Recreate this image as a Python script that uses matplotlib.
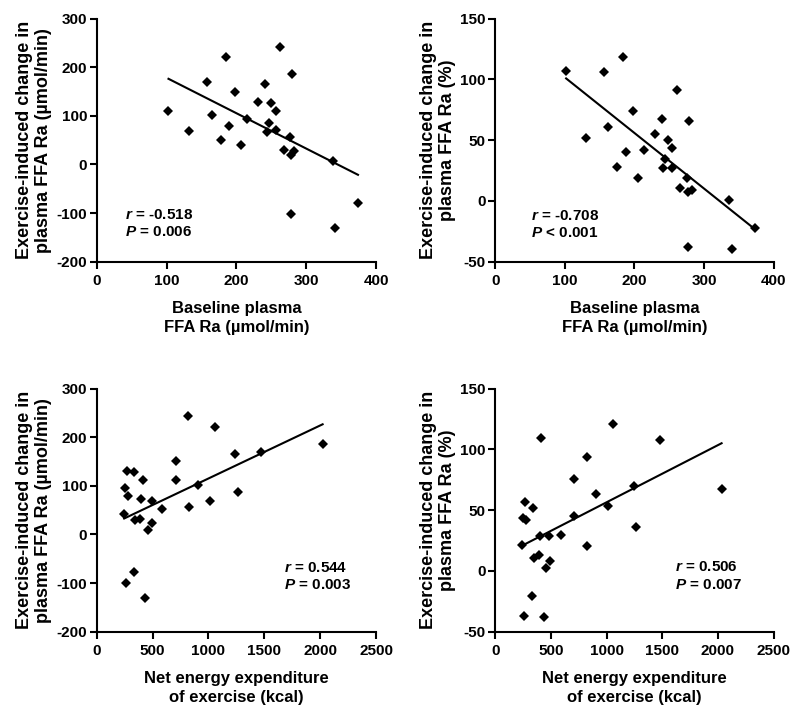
import numpy as np
import matplotlib
matplotlib.use("Agg")
import matplotlib.pyplot as plt

plt.rcParams['font.family'] = ['Liberation Sans', 'DejaVu Sans']
plt.rcParams['font.weight'] = 'bold'
plt.rcParams['axes.unicode_minus'] = False
plt.rcParams['mathtext.fontset'] = 'custom'
plt.rcParams['mathtext.rm'] = 'Liberation Sans:bold'
plt.rcParams['mathtext.it'] = 'Liberation Sans:italic:bold'

# baseline plasma FFA Ra (umol/min) vs change in FFA Ra (umol/min)
base_x1 = [102.7, 131.9, 157.2, 164.4, 177.8, 184.5, 189.2, 198.3, 206.5, 215.5,
           231.3, 240.4, 243.7, 246.6, 249.0, 256.1, 256.1, 262.4, 267.6, 277.2,
           279.1, 278.1, 277.7, 282.9, 337.9, 341.7, 374.2]
chg_abs1 = [109.6, 68.5, 169.2, 101.4, 50.7, 220.5, 80.1, 148.6, 41.1, 93.8,
            129.5, 165.8, 67.8, 85.6, 126.7, 109.6, 71.9, 242.5, 30.8, 56.2,
            185.6, -101.4, 20.5, 27.4, 6.8, -131.5, -78.8]

# baseline plasma FFA Ra vs change in FFA Ra (%)
base_x2 = [101.9, 131.1, 156.5, 162.7, 175.6, 183.7, 187.6, 197.6, 205.3, 214.4,
           229.2, 239.2, 241.6, 244.0, 247.8, 254.1, 254.5, 261.2, 266.0, 275.6,
           278.5, 277.0, 277.5, 282.3, 335.9, 340.7, 373.2]
chg_pct2 = [106.7, 51.9, 105.9, 60.7, 28.1, 118.5, 40.4, 73.8, 19.0, 41.8,
            54.9, 67.8, 27.0, 34.1, 50.0, 43.2, 27.3, 91.6, 10.8, 19.0,
            65.6, -37.7, 7.3, 8.9, 0.7, -39.9, -22.0]

# net energy expenditure (kcal) vs change in FFA Ra (umol/min)
kcal_x3 = [269, 331, 254, 278, 245, 412, 397, 343, 391, 454,
           493, 490, 588, 711, 705, 815, 824, 905, 1015, 1054,
           1240, 1263, 1466, 2022, 257, 331, 436]
chg_abs3 = [130.1, 128.1, 95.9, 79.5, 41.8, 111.6, 73.3, 29.5, 30.8, 8.2,
            22.6, 68.5, 51.4, 150.7, 111.6, 243.8, 56.8, 102.1, 69.2, 221.9,
            166.4, 86.3, 169.9, 186.3, -100.7, -77.4, -131.5]

# net energy expenditure (kcal) vs change in FFA Ra (%)
kcal_x4 = [413, 1059, 1477, 822, 712, 909, 1244, 2033, 1014, 706,
           272, 335, 251, 281, 1268, 404, 487, 589, 245, 825,
           344, 395, 495, 454, 332, 257, 434]
chg_pct4 = [109.2, 121.2, 108.1, 93.8, 75.8, 62.9, 70.0, 67.8, 53.6, 45.1,
            56.6, 51.9, 43.7, 41.8, 35.8, 28.9, 28.9, 29.5, 21.0, 20.7,
            10.3, 12.7, 8.4, 2.1, -21.0, -36.8, -38.2]

stats_r = ['-0.518', '-0.708', '0.544', '0.506']
stats_p = ['= 0.006', '< 0.001', '= 0.003', '= 0.007']

ylab_abs = 'Exercise-induced change in\nplasma FFA Ra (\u00b5mol/min)'
ylab_pct = 'Exercise-induced change in\nplasma FFA Ra (%)'
xlab_base = 'Baseline plasma\nFFA Ra (\u00b5mol/min)'
xlab_kcal = 'Net energy expenditure\nof exercise (kcal)'

panels = [
    dict(x=base_x1, y=chg_abs1, rect=[0.121, 0.635, 0.349, 0.339],
         xlim=(0, 400), xt=np.arange(0, 401, 100), ylim=(-200, 300), yt=np.arange(-200, 301, 100),
         xl=xlab_base, yl=ylab_abs, txy=(41, -103), dy=-36),
    dict(x=base_x2, y=chg_pct2, rect=[0.619, 0.635, 0.348, 0.339],
         xlim=(0, 400), xt=np.arange(0, 401, 100), ylim=(-50, 150), yt=np.arange(-50, 151, 50),
         xl=xlab_base, yl=ylab_pct, txy=(51, -12), dy=-14.5),
    dict(x=kcal_x3, y=chg_abs3, rect=[0.121, 0.119, 0.349, 0.339],
         xlim=(0, 2500), xt=np.arange(0, 2501, 500), ylim=(-200, 300), yt=np.arange(-200, 301, 100),
         xl=xlab_kcal, yl=ylab_abs, txy=(1678, -68), dy=-37),
    dict(x=kcal_x4, y=chg_pct4, rect=[0.619, 0.119, 0.348, 0.339],
         xlim=(0, 2500), xt=np.arange(0, 2501, 500), ylim=(-50, 150), yt=np.arange(-50, 151, 50),
         xl=xlab_kcal, yl=ylab_pct, txy=(1615, 3), dy=-15),
]

fig = plt.figure(figsize=(8, 7.17), dpi=100)

for i, p in enumerate(panels):
    ax = fig.add_axes(p['rect'])
    x = np.array(p['x'])
    y = np.array(p['y'])
    ax.plot(x, y, 'D', color='black', markersize=5.5, markeredgewidth=0, clip_on=False)
    k, b = np.polyfit(x, y, 1)
    xx = np.array([x.min(), x.max()])
    ax.plot(xx, k * xx + b, color='black', linewidth=1.5)

    ax.set_xlim(*p['xlim'])
    ax.set_ylim(*p['ylim'])
    ax.set_xticks(p['xt'])
    ax.set_yticks(p['yt'])
    for s in ['top', 'right']:
        ax.spines[s].set_visible(False)
    for s in ['left', 'bottom']:
        ax.spines[s].set_linewidth(1.5)
    ax.tick_params(direction='out', length=5, width=1.5, labelsize=11, pad=2)
    ax.tick_params(axis='x', pad=4)
    for lab in ax.get_xticklabels() + ax.get_yticklabels():
        lab.set_fontweight('bold')

    ax.set_xlabel(p['xl'], fontsize=12, fontweight='bold', labelpad=9, linespacing=1.38)
    ax.set_ylabel(p['yl'], fontsize=13, fontweight='bold', labelpad=3, linespacing=1.15)

    tx, ty = p['txy']
    ax.text(tx, ty, '$r$ = ' + stats_r[i], fontsize=11, fontweight='bold', va='center', ha='left')
    ax.text(tx, ty + p['dy'], '$P$ ' + stats_p[i], fontsize=11, fontweight='bold', va='center', ha='left')

fig.savefig('out.png', dpi=100)
